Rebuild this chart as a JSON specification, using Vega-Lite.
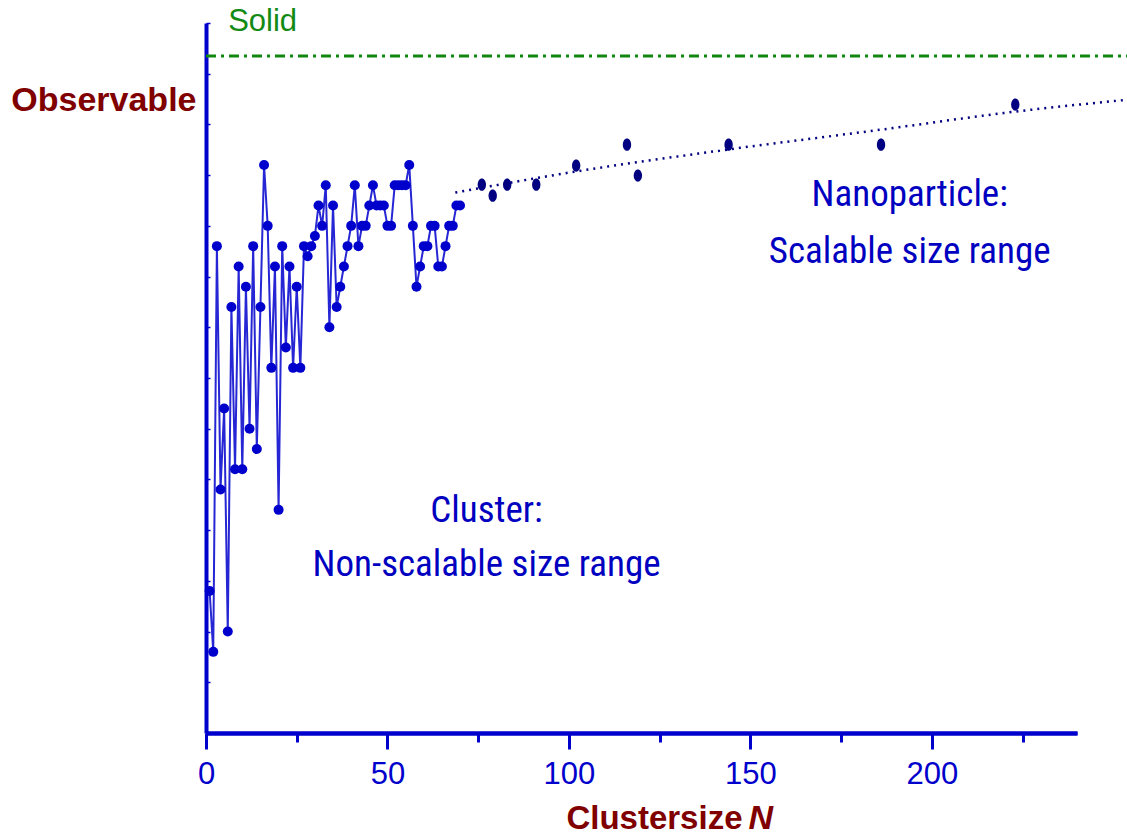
{
  "$schema": "https://vega.github.io/schema/vega-lite/v6.json",
  "width": 871,
  "height": 710,
  "autosize": {"type": "none"},
  "padding": {"left": 206, "top": 23, "right": 50, "bottom": 103},
  "background": "white",
  "config": {
    "view": {"stroke": null},
    "axis": {
      "grid": false,
      "domainColor": "#0000cc",
      "domainWidth": 4,
      "tickColor": "#0000cc",
      "tickWidth": 3,
      "labelColor": "#0000cc",
      "labelFont": "Liberation Sans, Arial, sans-serif",
      "labelFontSize": 31,
      "labelFlush": false,
      "titleColor": "#800000",
      "titleFont": "Liberation Sans, Arial, sans-serif",
      "titleFontSize": 33,
      "titleFontWeight": "bold"
    }
  },
  "datasets": {
    "cluster": [
      {"N": 1, "V": 7}, {"N": 2, "V": 4}, {"N": 3, "V": 24}, {"N": 4, "V": 12},
      {"N": 5, "V": 16}, {"N": 6, "V": 5}, {"N": 7, "V": 21}, {"N": 8, "V": 13},
      {"N": 9, "V": 23}, {"N": 10, "V": 13}, {"N": 11, "V": 22}, {"N": 12, "V": 15},
      {"N": 13, "V": 24}, {"N": 14, "V": 14}, {"N": 15, "V": 21}, {"N": 16, "V": 28},
      {"N": 17, "V": 25}, {"N": 18, "V": 18}, {"N": 19, "V": 23}, {"N": 20, "V": 11},
      {"N": 21, "V": 24}, {"N": 22, "V": 19}, {"N": 23, "V": 23}, {"N": 24, "V": 18},
      {"N": 25, "V": 22}, {"N": 26, "V": 18}, {"N": 27, "V": 24}, {"N": 28, "V": 23.5},
      {"N": 29, "V": 24}, {"N": 30, "V": 24.5}, {"N": 31, "V": 26}, {"N": 32, "V": 25},
      {"N": 33, "V": 27}, {"N": 34, "V": 20}, {"N": 35, "V": 26}, {"N": 36, "V": 21},
      {"N": 37, "V": 22}, {"N": 38, "V": 23}, {"N": 39, "V": 24}, {"N": 40, "V": 25},
      {"N": 41, "V": 27}, {"N": 42, "V": 24}, {"N": 43, "V": 25}, {"N": 44, "V": 25},
      {"N": 45, "V": 26}, {"N": 46, "V": 27}, {"N": 47, "V": 26}, {"N": 48, "V": 26},
      {"N": 49, "V": 26}, {"N": 50, "V": 25}, {"N": 51, "V": 25}, {"N": 52, "V": 27},
      {"N": 53, "V": 27}, {"N": 54, "V": 27}, {"N": 55, "V": 27}, {"N": 56, "V": 28},
      {"N": 57, "V": 25}, {"N": 58, "V": 22}, {"N": 59, "V": 23}, {"N": 60, "V": 24},
      {"N": 61, "V": 24}, {"N": 62, "V": 25}, {"N": 63, "V": 25}, {"N": 64, "V": 23},
      {"N": 65, "V": 23}, {"N": 66, "V": 24}, {"N": 67, "V": 25}, {"N": 68, "V": 25},
      {"N": 69, "V": 26}, {"N": 70, "V": 26}
    ],
    "nano": [
      {"N": 76, "V": 27.03}, {"N": 79, "V": 26.49}, {"N": 83, "V": 27.03},
      {"N": 91, "V": 27.03}, {"N": 102, "V": 27.97}, {"N": 116, "V": 29.0},
      {"N": 119, "V": 27.48}, {"N": 144, "V": 29.0}, {"N": 186, "V": 29.0},
      {"N": 223, "V": 30.98}
    ],
    "trend": [
      {"N": 68.7, "V": 26.64}, {"N": 101.6, "V": 27.67}, {"N": 143.7, "V": 28.76},
      {"N": 185.9, "V": 29.74}, {"N": 222.9, "V": 30.63}, {"N": 254, "V": 31.22}
    ],
    "notes": [
      {"N": 77.3, "V": 10.92, "label": "Cluster:"},
      {"N": 77.3, "V": 8.26, "label": "Non-scalable size range"},
      {"N": 193.9, "V": 26.5, "label": "Nanoparticle:"},
      {"N": 193.9, "V": 23.7, "label": "Scalable size range"}
    ],
    "solid": [{"N": 0, "N1": 254, "V": 33.37}],
    "solidLabel": [{"N": 6.1, "V": 35.05, "label": "Solid"}],
    "nLabel": [{"N": 149.5, "V": -4.71, "label": "N"}]
  },
  "encoding": {
    "y": {"field": "V", "type": "quantitative", "scale": {"domain": [0, 35], "nice": false},
      "axis": {"orient": "left", "values": [0, 2.5, 5, 7.5, 10, 12.5, 15, 17.5, 20, 22.5, 25, 27.5, 30, 32.5, 35], "tickSize": -4, "tickWidth": 1.5, "labels": false,
        "title": "Observable", "titleAngle": 0, "titleAlign": "right", "titleBaseline": "middle", "titleX": -10, "titleY": 77, "titleFontSize": 34}}
  },
  "layer": [
    {
      "data": {"name": "solid"},
      "mark": {"type": "rule", "color": "#118611", "strokeWidth": 3, "strokeDash": [10, 5, 3, 5]},
      "encoding": {
        "x": {"field": "N", "type": "quantitative", "scale": {"domain": [0, 240], "nice": false}, "axis": null},
        "x2": {"field": "N1"}
      }
    },
    {
      "data": {"name": "cluster"},
      "mark": {"type": "line", "color": "#0000cc", "strokeWidth": 2, "opacity": 0.85},
      "encoding": {
        "x": {"field": "N", "type": "quantitative",
          "axis": {"orient": "bottom", "values": [0, 50, 100, 150, 200], "tickSize": 16, "labelPadding": 10, "labelBaseline": "top",
            "title": "Clustersize", "titleX": 536, "titleY": 95, "titleAlign": "right", "titleBaseline": "alphabetic", "titleAnchor": "end"}}
      }
    },
    {
      "data": {"name": "cluster"},
      "mark": {"type": "point", "filled": true, "size": 100, "color": "#0000cc", "opacity": 1},
      "encoding": {
        "x": {"field": "N", "type": "quantitative", "axis": null}
      }
    },
    {
      "data": {"name": "trend"},
      "mark": {"type": "line", "color": "#000080", "strokeWidth": 2.5, "strokeDash": [2, 5], "interpolate": "monotone"},
      "encoding": {
        "x": {"field": "N", "type": "quantitative",
          "axis": {"orient": "bottom", "values": [25, 75, 125, 175, 225], "tickSize": 9, "labels": false, "title": null}}
      }
    },
    {
      "data": {"name": "nano"},
      "mark": {"type": "point", "filled": true, "size": 150, "color": "#000080", "opacity": 1,
        "shape": "M0,-1A0.68,1 0 1,1 0,1A0.68,1 0 1,1 0,-1Z"},
      "encoding": {
        "x": {"field": "N", "type": "quantitative", "axis": null}
      }
    },
    {
      "data": {"name": "notes"},
      "mark": {"type": "text", "align": "center", "baseline": "middle", "font": "Roboto Condensed, DejaVu Sans Condensed, sans-serif", "fontSize": 37, "color": "#0000c0"},
      "encoding": {
        "x": {"field": "N", "type": "quantitative", "axis": null},
        "text": {"field": "label"}
      }
    },
    {
      "data": {"name": "solidLabel"},
      "mark": {"type": "text", "align": "left", "baseline": "middle", "font": "Liberation Sans, Arial, sans-serif", "fontSize": 31, "color": "#138a13"},
      "encoding": {
        "x": {"field": "N", "type": "quantitative", "axis": null},
        "text": {"field": "label"}
      }
    },
    {
      "data": {"name": "nLabel"},
      "mark": {"type": "text", "align": "left", "baseline": "alphabetic", "font": "Liberation Sans, Arial, sans-serif", "fontSize": 34, "fontWeight": "bold", "fontStyle": "italic", "color": "#800000"},
      "encoding": {
        "x": {"field": "N", "type": "quantitative", "axis": null},
        "text": {"field": "label"}
      }
    }
  ],
  "resolve": {"axis": {"x": "independent"}}
}
